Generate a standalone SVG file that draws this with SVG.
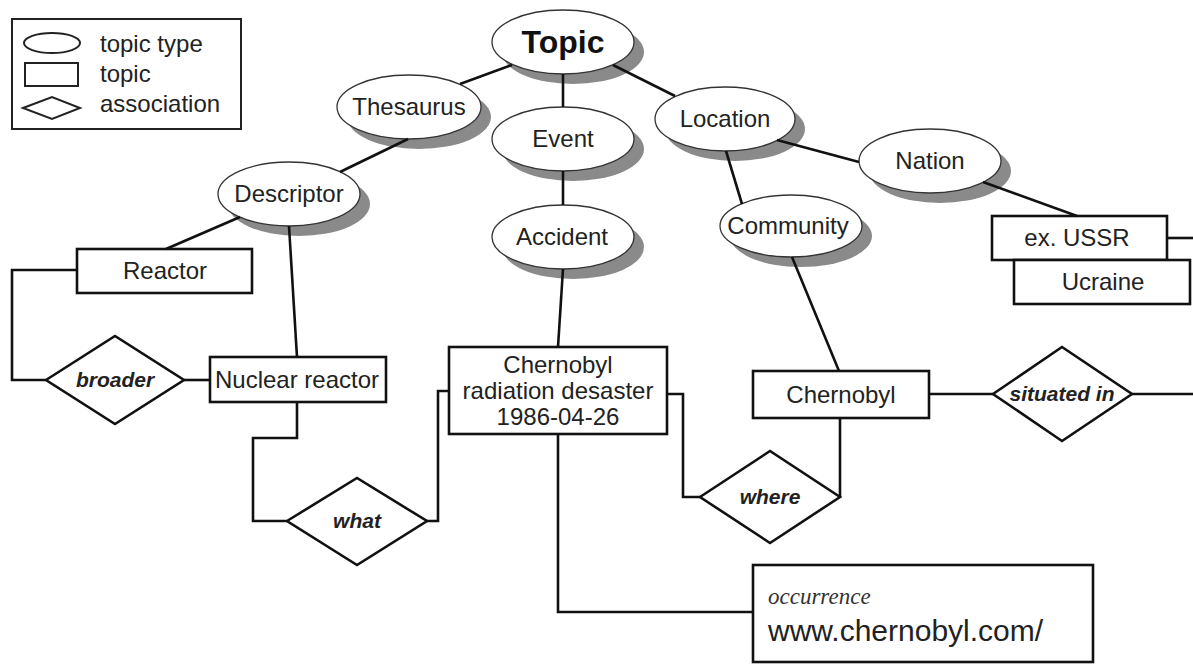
<svg xmlns="http://www.w3.org/2000/svg" width="1193" height="664" viewBox="0 0 1193 664">
<style>
.bg{fill:#fff}
.sh{fill:#8a8a8a}
.el{fill:#fff;stroke:#333;stroke-width:1.3}
.rc{fill:#fff;stroke:#111;stroke-width:2.6}
.dm{fill:#fff;stroke:#111;stroke-width:2.6}
.ln{fill:none;stroke:#111;stroke-width:2.6}
.t{font-family:"Liberation Sans",Arial,sans-serif;font-size:24px;fill:#222;text-anchor:middle}
.tb{font-family:"Liberation Sans",Arial,sans-serif;font-size:32px;font-weight:bold;fill:#111;text-anchor:middle}
.ta{font-family:"Liberation Sans",Arial,sans-serif;font-size:21px;font-weight:bold;font-style:italic;fill:#222;text-anchor:middle}
.tl{font-family:"Liberation Sans",Arial,sans-serif;font-size:24px;fill:#222}
.to{font-family:"Liberation Serif","Times New Roman",serif;font-size:23px;font-style:italic;fill:#333}
.tw{font-family:"Liberation Sans",Arial,sans-serif;font-size:30px;fill:#222}
</style>
<rect class="bg" x="0" y="0" width="1193" height="664"/>
<g id="legend">
<rect x="12" y="19" width="229" height="110" fill="#fff" stroke="#222" stroke-width="2"/>
<ellipse cx="52" cy="43" rx="28" ry="10" fill="#fff" stroke="#222" stroke-width="2"/>
<rect x="25" y="63" width="53" height="23" fill="#fff" stroke="#222" stroke-width="2"/>
<polygon points="23,108 52,97 80,108 52,119" fill="#fff" stroke="#222" stroke-width="2"/>
<text class="tl" x="100" y="52">topic type</text>
<text class="tl" x="100" y="82">topic</text>
<text class="tl" x="100" y="112">association</text>
</g>
<g id="topic"><ellipse class="sh" cx="573" cy="52" rx="71" ry="32"/><ellipse class="el" cx="563" cy="42" rx="71" ry="32"/><text class="tb" x="563" y="53">Topic</text></g>
<g id="thesaurus"><ellipse class="sh" cx="419" cy="117" rx="72" ry="32"/><ellipse class="el" cx="409" cy="107" rx="72" ry="32"/><text class="t" x="409" y="115">Thesaurus</text></g>
<g id="event"><ellipse class="sh" cx="573" cy="149" rx="71" ry="32"/><ellipse class="el" cx="563" cy="139" rx="71" ry="32"/><text class="t" x="563" y="147">Event</text></g>
<g id="location"><ellipse class="sh" cx="735" cy="129" rx="70" ry="32"/><ellipse class="el" cx="725" cy="119" rx="70" ry="32"/><text class="t" x="725" y="127">Location</text></g>
<g id="nation"><ellipse class="sh" cx="940" cy="171" rx="71" ry="32"/><ellipse class="el" cx="930" cy="161" rx="71" ry="32"/><text class="t" x="930" y="169">Nation</text></g>
<g id="descriptor"><ellipse class="sh" cx="299" cy="204" rx="71" ry="32"/><ellipse class="el" cx="289" cy="194" rx="71" ry="32"/><text class="t" x="289" y="202">Descriptor</text></g>
<g id="community"><ellipse class="sh" cx="801" cy="236" rx="71" ry="31"/><ellipse class="el" cx="791" cy="226" rx="71" ry="31"/><text class="t" x="788" y="234">Community</text></g>
<g id="accident"><ellipse class="sh" cx="573" cy="247" rx="71" ry="32"/><ellipse class="el" cx="563" cy="237" rx="71" ry="32"/><text class="t" x="562" y="245">Accident</text></g>
<g id="reactor"><rect class="rc" x="77" y="249" width="175" height="44"/><text class="t" x="165" y="279">Reactor</text></g>
<g id="nuclear-reactor"><rect class="rc" x="210" y="357" width="176" height="45"/><text class="t" x="297" y="388">Nuclear reactor</text></g>
<g id="chernobyl-disaster"><rect class="rc" x="449" y="347" width="218" height="87"/><text class="t" x="558" y="373">Chernobyl</text><text class="t" x="558" y="399">radiation desaster</text><text class="t" x="558" y="425">1986-04-26</text></g>
<g id="chernobyl"><rect class="rc" x="753" y="371" width="176" height="47"/><text class="t" x="841" y="403">Chernobyl</text></g>
<g id="ex-ussr"><rect class="rc" x="992" y="216" width="175" height="44"/><text class="t" x="1077" y="246">ex. USSR</text></g>
<g id="ucraine"><rect class="rc" x="1014" y="260" width="176" height="44"/><text class="t" x="1103" y="290">Ucraine</text></g>
<g id="occurrence"><rect class="rc" x="753" y="565" width="340" height="97"/><text class="to" x="768" y="604">occurrence</text><text class="tw" x="768" y="641">www.chernobyl.com/</text></g>
<g id="broader"><polygon class="dm" points="46,380 115,336 184,380 115,424"/><text class="ta" x="115" y="387">broader</text></g>
<g id="what"><polygon class="dm" points="287,521 357,478 427,521 357,565"/><text class="ta" x="357" y="528">what</text></g>
<g id="where"><polygon class="dm" points="700,497 770,451 840,497 770,543"/><text class="ta" x="770" y="504">where</text></g>
<g id="situated-in"><polygon class="dm" points="993,394 1062,347 1132,394 1062,441"/><text class="ta" x="1062" y="401">situated in</text></g>
<g id="connectors">
<line class="ln" x1="512" y1="65" x2="460" y2="84"/>
<line class="ln" x1="563" y1="74" x2="563" y2="107"/>
<line class="ln" x1="613" y1="65" x2="675" y2="96"/>
<line class="ln" x1="408" y1="139" x2="340" y2="172"/>
<line class="ln" x1="563" y1="171" x2="563" y2="205"/>
<line class="ln" x1="726" y1="151" x2="742" y2="204"/>
<line class="ln" x1="777" y1="140" x2="859" y2="162"/>
<line class="ln" x1="983" y1="182" x2="1077" y2="216"/>
<line class="ln" x1="240" y1="217" x2="166" y2="249"/>
<line class="ln" x1="289" y1="226" x2="297" y2="357"/>
<polyline class="ln" points="77,270 12,270 12,380 46,380"/>
<line class="ln" x1="184" y1="380" x2="210" y2="380"/>
<polyline class="ln" points="297,402 297,438 253,438 253,521 287,521"/>
<polyline class="ln" points="427,521 438,521 438,391 449,391"/>
<line class="ln" x1="563" y1="269" x2="558" y2="347"/>
<polyline class="ln" points="558,434 558,612 753,612"/>
<polyline class="ln" points="667,394 683,394 683,497 700,497"/>
<line class="ln" x1="840" y1="418" x2="840" y2="497"/>
<line class="ln" x1="792" y1="257" x2="839" y2="371"/>
<line class="ln" x1="929" y1="394" x2="993" y2="394"/>
<line class="ln" x1="1132" y1="394" x2="1193" y2="394"/>
<line class="ln" x1="1167" y1="238" x2="1193" y2="238"/>
</g>
</svg>
